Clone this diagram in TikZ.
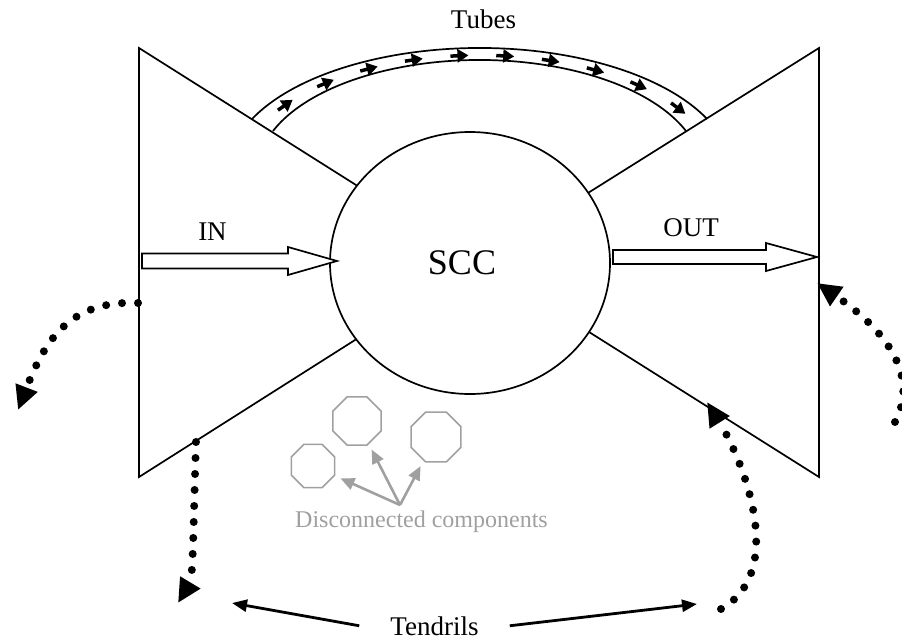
\documentclass[tikz,border=0pt]{standalone}
\usepackage{fontspec}
\setmainfont{Liberation Serif}
\usetikzlibrary{arrows.meta, shapes.geometric, decorations.markings}

\definecolor{compgray}{RGB}{160,160,160}

\tikzset{
  bowline/.style={line width=1.7pt},
  lbl/.style={font=\fontsize{27}{30}\selectfont, inner sep=0pt},
  tendril/.style={line width=8pt, line cap=round, dash pattern=on 0pt off 16pt,
    -{Triangle[length=24pt,width=22pt]}},
  tendarrow/.style={line width=2.8pt, -{Triangle[length=15pt,width=12pt]}},
  octa/.style={regular polygon, regular polygon sides=8, draw=compgray, line width=1.5pt, inner sep=0pt},
  comparrow/.style={compgray, line width=2.6pt, shorten >=6pt, -{Triangle[length=14pt,width=12pt]}},
  tubetip/.style={line width=3.5pt, -{Triangle[length=11pt,width=13pt]}}
}

\begin{document}
\begin{tikzpicture}[x=1pt, y=-1pt]
  \path[use as bounding box, fill=white] (0,0) rectangle (902,640);

  % bow tie
  \draw[bowline] (139,48) -- (478,262) -- (139,477) -- cycle;
  \draw[bowline] (819,48) -- (478,262) -- (819,477) -- cycle;

  % tubes
  \draw[bowline] (252,119) arc[start angle=205.3, end angle=334.7, x radius=251.7, y radius=124];
  \draw[bowline] (273,131) arc[start angle=201.47, end angle=338.53, x radius=221.9, y radius=112];
  \path[decorate, decoration={markings,
      mark=between positions 0.065 and 0.96 step 0.098 with {\draw[tubetip] (-9pt,0pt) -- (9pt,0pt);}}]
    (262.5,125) arc[start angle=203.7, end angle=336.3, x radius=237, y radius=116.5];
  \node[lbl, anchor=base] (tubes) at (483.5,28) {Tubes};

  \node[draw, ellipse, fill=white, line width=1.7pt, minimum width=280pt, minimum height=262pt] (scc) at (470,263) {};
  \node[font=\fontsize{36}{40}\selectfont] (scctxt) at (462,263) {SCC};

  % in / out
  \draw[bowline, fill=white] (142,253.5) -- (288,253.5) -- (288,247) -- (337,261)
    -- (288,275) -- (288,268.5) -- (142,268.5) -- cycle;
  \draw[bowline, fill=white] (613,250) -- (766,250) -- (766,243) -- (817,257)
    -- (766,271) -- (766,264) -- (613,264) -- cycle;
  \node[lbl, anchor=base] (in) at (212.5,240) {IN};
  \node[lbl, anchor=base] (out) at (691,236) {OUT};

  % disconnected components
  \node[octa, minimum size=52pt] (oa) at (357,421) {};
  \node[octa, minimum size=54pt] (ob) at (436,437) {};
  \node[octa, minimum size=47pt] (oc) at (313,466) {};
  \node[lbl, compgray, font=\fontsize{24}{28}\selectfont, anchor=base] (dc) at (421.5,527) {Disconnected components};
  \coordinate (hub) at (400,505);
  \draw[comparrow] (hub) -- (oa);
  \draw[comparrow] (hub) -- (ob);
  \draw[comparrow] (hub) -- (oc);

  % tendrils
  \coordinate (lt0) at (138,303);
  \coordinate (lt1) at (18,410);
  \coordinate (bl0) at (196,442);
  \coordinate (bl1) at (178,603);
  \coordinate (rb0) at (721,609);
  \coordinate (rb1) at (707,402);
  \coordinate (rt0) at (895,422);
  \coordinate (rt1) at (817,283);
  \draw[tendril] (lt0) .. controls (70,300) and (45,340) .. (lt1);
  \draw[tendril] (bl0) .. controls (193,540) and (193,578) .. (bl1);
  \draw[tendril] (rb0) .. controls (790,570) and (740,455) .. (rb1);
  \draw[tendril] (rt0) .. controls (915,385) and (900,340) .. (rt1);

  \node[lbl, anchor=base, inner xsep=31pt] (tend) at (434.5,635) {Tendrils};
  \coordinate (tl) at (232,603);
  \coordinate (tr) at (697,604);
  \draw[tendarrow] (tend.west) -- (tl);
  \draw[tendarrow] (tend.east) -- (tr);
\end{tikzpicture}
\end{document}
